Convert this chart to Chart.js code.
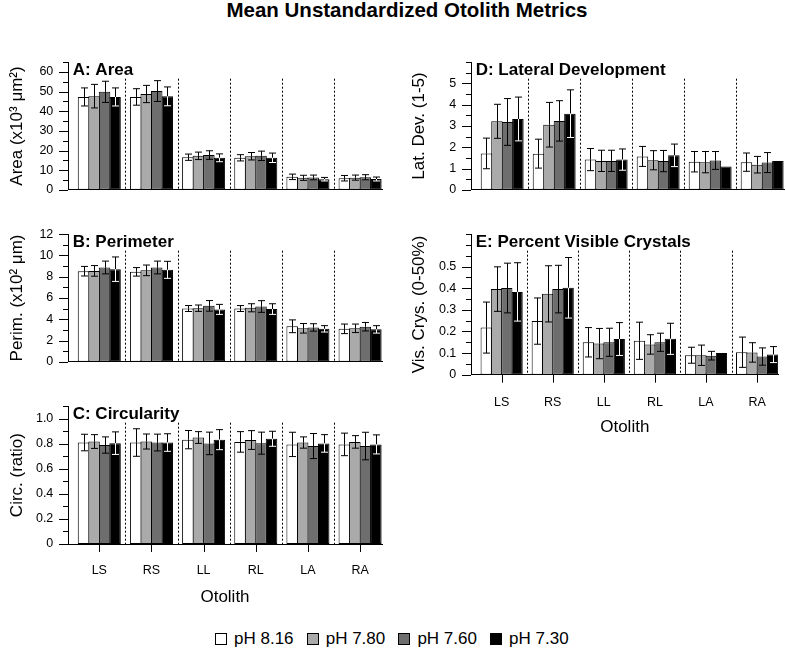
<!DOCTYPE html>
<html><head><meta charset="utf-8">
<script src="https://cdn.jsdelivr.net/npm/chart.js@4.4.1/dist/chart.umd.min.js"></script>
<style>
html,body{margin:0;padding:0;background:#fff;}
body{width:786px;height:649px;position:relative;overflow:hidden;font-family:'Liberation Sans',Arial,sans-serif;color:#000;}
canvas{position:absolute;}
#title{position:absolute;left:0;width:814px;top:0;text-align:center;font-weight:bold;font-size:20.5px;line-height:20px;white-space:nowrap;}
.lg{position:absolute;top:629.9px;height:17px;font-size:17px;line-height:17px;white-space:nowrap;}
.lg i{position:absolute;left:0;top:3px;width:10px;height:10px;border:1px solid #000;}
.lg span{position:absolute;left:19px;top:0;}
</style></head>
<body>
<div id="title">Mean Unstandardized Otolith Metrics</div>
<canvas id="cA" width="393" height="172" style="left:0;top:40px"></canvas>
<canvas id="cB" width="393" height="172" style="left:0;top:212px"></canvas>
<canvas id="cC" width="393" height="231" style="left:0;top:384px"></canvas>
<canvas id="cD" width="393" height="172" style="left:393px;top:40px"></canvas>
<canvas id="cE" width="393" height="233" style="left:393px;top:212px"></canvas>
<div id="legend"></div>
<script>
// ---------- data ----------
const categories = ['LS','RS','LL','RL','LA','RA'];
const seriesNames = ['pH 8.16','pH 7.80','pH 7.60','pH 7.30'];
const seriesColors = ['#ffffff','#aaaaaa','#6e6e6e','#000000'];

// A: Area (x10^3 um^2)
const area816 = [47.3, 47.3, 16.6, 16.3, 6.6, 5.9];
const area780 = [47.7, 48.8, 17.3, 17.1, 6.1, 6.2];
const area760 = [49.9, 50.3, 17.7, 17.3, 6.3, 6.4];
const area730 = [47.3, 47.6, 16.3, 16.3, 5.4, 5.5];
const areaErr816 = [4.6, 4.2, 1.6, 1.6, 1.4, 1.4];
const areaErr780 = [6.0, 4.4, 1.9, 1.9, 1.3, 1.3];
const areaErr760 = [5.4, 5.3, 2.2, 2.4, 1.2, 1.3];
const areaErr730 = [4.6, 4.8, 2.0, 2.4, 0.9, 1.0];

// B: Perimeter (x10^2 um)
const perim816 = [8.52, 8.46, 5.01, 5.01, 3.34, 3.10];
const perim780 = [8.55, 8.60, 5.04, 5.08, 3.15, 3.15];
const perim760 = [8.87, 8.87, 5.26, 5.20, 3.23, 3.30];
const perim730 = [8.71, 8.65, 4.93, 4.96, 3.10, 3.05];
const perimErr816 = [0.45, 0.40, 0.28, 0.28, 0.60, 0.45];
const perimErr780 = [0.50, 0.50, 0.30, 0.38, 0.45, 0.40];
const perimErr760 = [0.60, 0.60, 0.50, 0.55, 0.35, 0.40];
const perimErr730 = [1.15, 0.80, 0.47, 0.50, 0.30, 0.35];

// C: Circularity (ratio)
const circ816 = [0.810, 0.810, 0.833, 0.815, 0.795, 0.795];
const circ780 = [0.818, 0.818, 0.850, 0.830, 0.810, 0.815];
const circ760 = [0.790, 0.810, 0.803, 0.805, 0.782, 0.782];
const circ730 = [0.805, 0.810, 0.833, 0.840, 0.803, 0.795];
const circErr816 = [0.066, 0.110, 0.073, 0.082, 0.097, 0.090];
const circErr780 = [0.055, 0.060, 0.047, 0.075, 0.045, 0.050];
const circErr760 = [0.065, 0.067, 0.090, 0.088, 0.100, 0.110];
const circErr730 = [0.090, 0.070, 0.080, 0.060, 0.070, 0.076];

// D: Lateral development (1-5)
const lat816 = [1.71, 1.70, 1.42, 1.57, 1.32, 1.30];
const lat780 = [3.22, 3.06, 1.36, 1.39, 1.30, 1.18];
const lat760 = [3.19, 3.24, 1.36, 1.35, 1.38, 1.28];
const lat730 = [3.33, 3.58, 1.42, 1.62, 1.10, 1.35];
const latErr816 = [0.72, 0.68, 0.52, 0.47, 0.48, 0.43];
const latErr780 = [0.80, 1.05, 0.50, 0.45, 0.50, 0.39];
const latErr760 = [1.10, 0.95, 0.50, 0.50, 0.42, 0.47];
const latErr730 = [1.03, 1.12, 0.50, 0.53, 0, 0];

// E: Percent visible crystals (0-50%)
const vis816 = [0.218, 0.248, 0.150, 0.157, 0.090, 0.104];
const vis780 = [0.396, 0.374, 0.144, 0.140, 0.090, 0.103];
const vis760 = [0.401, 0.396, 0.150, 0.150, 0.088, 0.084];
const vis730 = [0.383, 0.402, 0.165, 0.166, 0.100, 0.093];
const visErr816 = [0.118, 0.107, 0.068, 0.086, 0.037, 0.070];
const visErr780 = [0.103, 0.130, 0.070, 0.045, 0.047, 0.045];
const visErr760 = [0.115, 0.110, 0.065, 0.042, 0.020, 0.040];
const visErr730 = [0.135, 0.140, 0.076, 0.072, 0, 0.037];

// tick values / labels
const areaTicks = [0,10,20,30,40,50,60];
const areaTickLabels = ['0','10','20','30','40','50','60'];
const areaMinor = [5,15,25,35,45,55,65];
const perimTicks = [0,2,4,6,8,10,12];
const perimTickLabels = ['0','2','4','6','8','10','12'];
const perimMinor = [1,3,5,7,9,11];
const circTicks = [0,0.2,0.4,0.6,0.8,1.0];
const circTickLabels = ['0','0.2','0.4','0.6','0.8','1.0'];
const circMinor = [0.1,0.3,0.5,0.7,0.9,1.1];
const latTicks = [0,1,2,3,4,5];
const latTickLabels = ['0','1','2','3','4','5'];
const latMinor = [0.5,1.5,2.5,3.5,4.5,5.5,6];
const visTicks = [0,0.1,0.2,0.3,0.4,0.5];
const visTickLabels = ['0','0.1','0.2','0.3','0.4','0.5'];
const visMinor = [0.05,0.15,0.25,0.35,0.45,0.55,0.6,0.65];

// ---------- rendering ----------
Chart.defaults.font.family = "'Liberation Sans', Arial, sans-serif";
Chart.defaults.color = '#000';

const decor = {
  id: 'panelDecor',
  afterDatasetsDraw(chart, args, o) {
    const ctx = chart.ctx, a = chart.chartArea, x = chart.scales.x, y = chart.scales.y;
    ctx.save();
    ctx.lineWidth = 1;
    // dotted separators
    ctx.strokeStyle = '#000';
    ctx.setLineDash([2, 2]);
    for (let i = 0; i < categories.length - 1; i++) {
      const px = Math.round(x.getPixelForValue(i + 0.5)) + 0.5;
      ctx.beginPath(); ctx.moveTo(px, a.top + 16.5); ctx.lineTo(px, a.bottom); ctx.stroke();
    }
    ctx.setLineDash([]);
    // error bars
    chart.data.datasets.forEach((ds, d) => {
      const meta = chart.getDatasetMeta(d);
      meta.data.forEach((el, i) => {
        const e = ds.errs[i];
        if (!e) return;
        const m = ds.data[i].y;
        const cx = Math.round(el.x) + 0.5;
        const yt = y.getPixelForValue(m + e), yb = y.getPixelForValue(m - e), ym = el.y;
        const inner = d === 3 ? '#fff' : '#000';
        const hw = 3.5;
        ctx.strokeStyle = '#000';
        ctx.beginPath();
        ctx.moveTo(cx, yt); ctx.lineTo(cx, ym);
        ctx.moveTo(cx - hw, yt); ctx.lineTo(cx + hw, yt);
        ctx.stroke();
        ctx.strokeStyle = inner;
        ctx.beginPath();
        ctx.moveTo(cx, ym); ctx.lineTo(cx, yb);
        ctx.moveTo(cx - hw, yb); ctx.lineTo(cx + hw, yb);
        ctx.stroke();
      });
    });
    // y ticks
    ctx.strokeStyle = '#000';
    ctx.beginPath();
    o.major.forEach(v => { const py = Math.round(y.getPixelForValue(v)) + 0.5; ctx.moveTo(a.left - 9, py); ctx.lineTo(a.left, py); });
    o.minor.forEach(v => { const py = Math.round(y.getPixelForValue(v)) + 0.5; ctx.moveTo(a.left - 5, py); ctx.lineTo(a.left, py); });
    if (o.xTicks) {
      categories.forEach((c, i) => { const px = Math.round(x.getPixelForValue(i)) + 0.5; ctx.moveTo(px, a.bottom); ctx.lineTo(px, a.bottom + 8); });
    }
    ctx.stroke();
    // panel label
    ctx.fillStyle = '#000';
    ctx.font = "bold 17px 'Liberation Sans', Arial, sans-serif";
    ctx.textAlign = 'left'; ctx.textBaseline = 'alphabetic';
    ctx.fillText(o.label, a.left + 4.7, a.top + 12.7);
    ctx.restore();
  }
};

function makePanel(id, c) {
  const datasets = seriesNames.map((name, s) => ({
    label: name,
    data: c.means[s].map((v, i) => ({x: i, y: v})),
    errs: c.errs[s],
    backgroundColor: seriesColors[s],
    borderColor: '#000',
    borderWidth: 1,
    borderSkipped: false,
    categoryPercentage: 0.806,
    barPercentage: 1.095
  }));
  new Chart(document.getElementById(id), {
    type: 'bar',
    data: {datasets},
    options: {
      responsive: false, animation: false, events: [],
      layout: {autoPadding: false, padding: {top: c.padTop, right: c.padRight, left: 0, bottom: 0}},
      plugins: {legend: {display: false}, tooltip: {enabled: false},
        panelDecor: {label: c.label, major: c.yTicks, minor: c.yMinor, xTicks: c.showX}},
      scales: {
        x: {
          type: 'linear', min: -0.6, max: 5.42, offset: false,
          grid: {display: false, drawTicks: false},
          border: {display: true, color: '#000', width: 1},
          ticks: {display: c.showX, autoSkip: false, maxRotation: 0, padding: c.xTickPad || 19.5, font: {size: 12.5}, color: '#000',
                  callback: (v, i) => categories[i]},
          afterBuildTicks: s => { s.ticks = categories.map((_, i) => ({value: i})); },
          afterFit: s => { s.height = c.xHeight; },
          title: {display: c.showX, text: 'Otolith', font: {size: 17}, color: '#000', padding: {top: 0, bottom: c.xTitlePad || 7.3}}
        },
        y: {
          type: 'linear', min: 0, max: c.yMax,
          grid: {display: false, drawTicks: false},
          border: {display: true, color: '#000', width: 1},
          ticks: {padding: 14.7, autoSkip: false, font: {size: 12.5}, color: '#000', callback: (v, i) => c.yLabels[i]},
          afterBuildTicks: s => { s.ticks = c.yTicks.map(v => ({value: v})); },
          afterFit: s => { s.width = c.yWidth; },
          title: {display: true, text: c.yTitle, font: {size: 17}, color: '#000', padding: {top: c.yTitlePad, bottom: 0}}
        }
      }
    },
    plugins: [decor]
  });
}

makePanel('cA', {label: 'A: Area', yTitle: 'Area (x10\u00B3 \u03BCm\u00B2)',
  means: [area816, area780, area760, area730], errs: [areaErr816, areaErr780, areaErr760, areaErr730],
  yMax: 65, yTicks: areaTicks, yLabels: areaTickLabels, yMinor: areaMinor,
  padTop: 20, padRight: 11, yWidth: 68, xHeight: 6.7, showX: false, yTitlePad: 7.3});
makePanel('cB', {label: 'B: Perimeter', yTitle: 'Perim. (x10\u00B2 \u03BCm)',
  means: [perim816, perim780, perim760, perim730], errs: [perimErr816, perimErr780, perimErr760, perimErr730],
  yMax: 12, yTicks: perimTicks, yLabels: perimTickLabels, yMinor: perimMinor,
  padTop: 17, padRight: 11, yWidth: 68, xHeight: 9, showX: false, yTitlePad: 7.3});
makePanel('cC', {label: 'C: Circularity', yTitle: 'Circ. (ratio)',
  means: [circ816, circ780, circ760, circ730], errs: [circErr816, circErr780, circErr760, circErr730],
  yMax: 1.1, yTicks: circTicks, yLabels: circTickLabels, yMinor: circMinor,
  padTop: 15, padRight: 11, yWidth: 68, xHeight: 71, showX: true, xTickPad: 19.1, xTitlePad: 7.3, yTitlePad: 7.3});
makePanel('cD', {label: 'D: Lateral Development', yTitle: 'Lat. Dev. (1-5)',
  means: [lat816, lat780, lat760, lat730], errs: [latErr816, latErr780, latErr760, latErr730],
  yMax: 6, yTicks: latTicks, yLabels: latTickLabels, yMinor: latMinor,
  padTop: 20, padRight: 2, yWidth: 78, xHeight: 6.7, showX: false, yTitlePad: 15.8});
makePanel('cE', {label: 'E: Percent Visible Crystals', yTitle: 'Vis. Crys. (0-50%)',
  means: [vis816, vis780, vis760, vis730], errs: [visErr816, visErr780, visErr760, visErr730],
  yMax: 0.65, yTicks: visTicks, yLabels: visTickLabels, yMinor: visMinor,
  padTop: 18, padRight: 2, yWidth: 78, xHeight: 70.3, showX: true, xTickPad: 20.1, xTitlePad: 7.8, yTitlePad: 15.8});

// legend (HTML text)
const legend = document.getElementById('legend');
seriesNames.forEach((n, s) => {
  const d = document.createElement('div');
  d.className = 'lg';
  d.style.left = (215 + 91.7 * s) + 'px';
  d.innerHTML = '<i style="background:' + seriesColors[s] + '"></i><span>' + n + '</span>';
  legend.appendChild(d);
});
</script>
</body></html>
